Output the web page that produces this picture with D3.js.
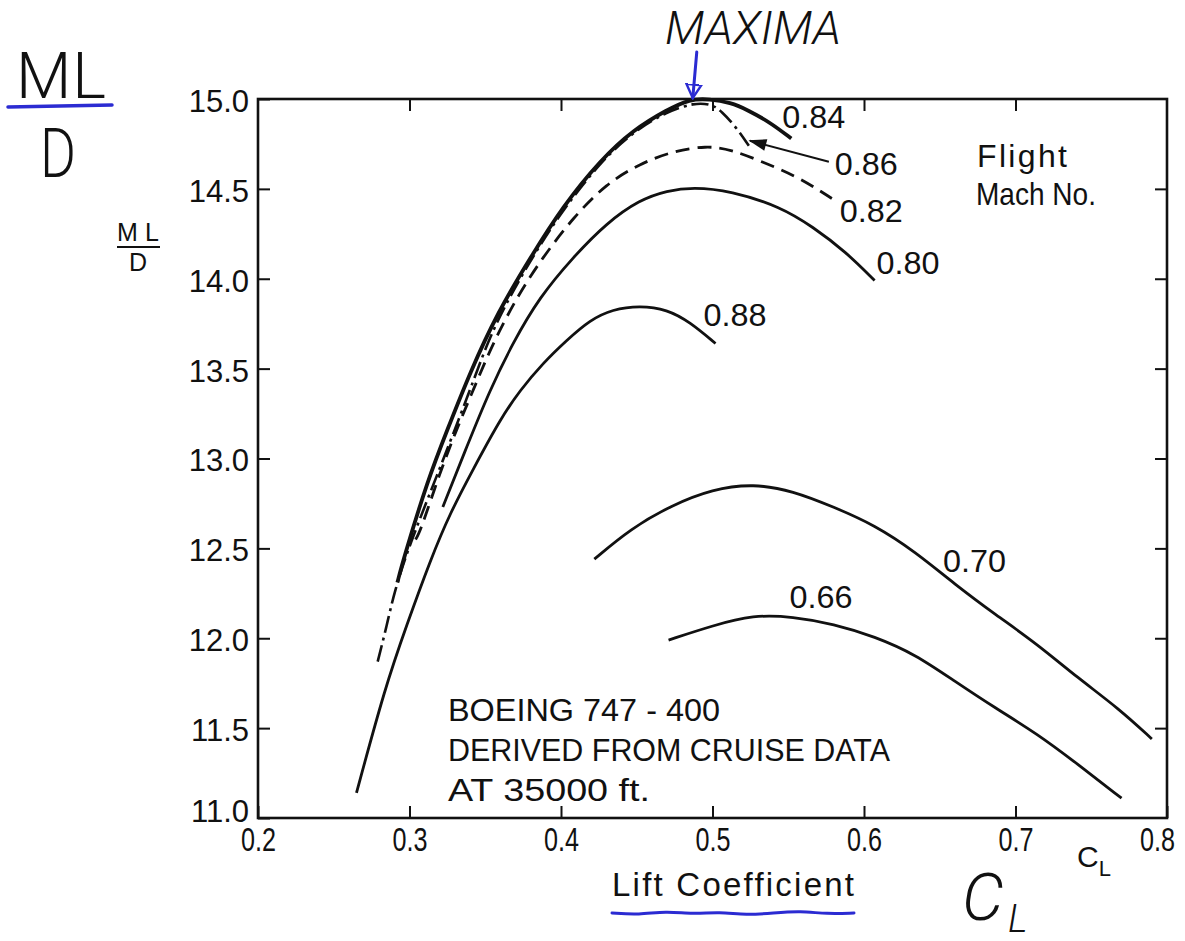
<!DOCTYPE html>
<html>
<head>
<meta charset="utf-8">
<script src="https://cdn.jsdelivr.net/npm/d3@7"></script>
<style>
  body { margin: 0; background: #fff; }
  svg { display: block; }
  text { font-family: "Liberation Sans", Arial, sans-serif; fill: #111; }
</style>
</head>
<body>
<div id="chart"></div>
<script>
// Canvas size
const width = 1185;
const height = 941;

// Flight Mach numbers (one curve each)
const machNumbers = ["0.84", "0.86", "0.82", "0.80", "0.88", "0.70", "0.66"];

// Lift coefficient (CL) and ML/D
const cl84 = [0.292, 0.296, 0.312, 0.325, 0.340, 0.358, 0.380, 0.401, 0.426, 0.448, 0.470, 0.485, 0.498, 0.512, 0.523, 0.538, 0.552];
const md84 = [12.31, 12.44, 12.88, 13.16, 13.48, 13.81, 14.12, 14.40, 14.66, 14.83, 14.94, 15.0, 15.0, 14.98, 14.94, 14.87, 14.78];

const cl86 = [0.279, 0.285, 0.290, 0.300, 0.317, 0.340, 0.352, 0.366, 0.384, 0.401, 0.426, 0.448, 0.470, 0.488, 0.500, 0.506, 0.515, 0.524];
const md86 = [11.87, 12.07, 12.26, 12.52, 12.88, 13.38, 13.66, 13.90, 14.16, 14.38, 14.65, 14.82, 14.93, 14.98, 14.97, 14.93, 14.85, 14.74];

const cl82 = [0.304, 0.307, 0.320, 0.331, 0.343, 0.355, 0.371, 0.388, 0.408, 0.430, 0.452, 0.474, 0.496, 0.512, 0.533, 0.556, 0.580];
const md82 = [12.55, 12.59, 12.92, 13.16, 13.40, 13.64, 13.90, 14.12, 14.34, 14.53, 14.64, 14.71, 14.74, 14.72, 14.65, 14.57, 14.44];

const cl80 = [0.322, 0.338, 0.353, 0.368, 0.386, 0.408, 0.430, 0.452, 0.470, 0.487, 0.512, 0.545, 0.566, 0.588, 0.607];
const md80 = [12.73, 13.07, 13.38, 13.64, 13.90, 14.12, 14.31, 14.44, 14.49, 14.51, 14.49, 14.40, 14.29, 14.15, 13.99];

const cl88 = [0.265, 0.284, 0.298, 0.314, 0.327, 0.342, 0.360, 0.373, 0.388, 0.404, 0.419, 0.434, 0.452, 0.470, 0.485, 0.502];
const md88 = [11.14, 11.73, 12.07, 12.44, 12.70, 12.94, 13.22, 13.38, 13.53, 13.66, 13.77, 13.83, 13.85, 13.83, 13.76, 13.64];

const cl70 = [0.422, 0.446, 0.473, 0.500, 0.527, 0.553, 0.580, 0.607, 0.634, 0.660, 0.687, 0.714, 0.741, 0.768, 0.790];
const md70 = [12.44, 12.61, 12.74, 12.83, 12.86, 12.82, 12.73, 12.63, 12.48, 12.30, 12.13, 11.97, 11.78, 11.61, 11.44];

const cl66 = [0.471, 0.500, 0.527, 0.553, 0.580, 0.607, 0.634, 0.660, 0.687, 0.714, 0.741, 0.770];
const md66 = [11.99, 12.07, 12.13, 12.12, 12.08, 12.01, 11.91, 11.76, 11.61, 11.47, 11.30, 11.11];

// Axis ticks
const xTicks = [0.2, 0.3, 0.4, 0.5, 0.6, 0.7, 0.8];
const yTicks = [11.0, 11.5, 12.0, 12.5, 13.0, 13.5, 14.0, 14.5, 15.0];

// Notes written in the plot
const noteLines = ["BOEING  747 - 400", "DERIVED FROM CRUISE DATA", "AT  35000  ft."];

// Scales
const x = d3.scaleLinear().domain([0.2, 0.8]).range([258, 1167]);
const y = d3.scaleLinear().domain([11, 15]).range([818, 99]);

const svg = d3
  .select("#chart")
  .append("svg")
  .attr("width", width)
  .attr("height", height);

// Arrow heads
const defs = svg.append("defs");
defs.append("marker")
  .attr("id", "head-black")
  .attr("viewBox", "0 0 12 8")
  .attr("refX", 11).attr("refY", 4)
  .attr("markerWidth", 20).attr("markerHeight", 12)
  .attr("markerUnits", "userSpaceOnUse")
  .attr("orient", "auto")
  .append("path").attr("d", "M0,0 L12,4 L0,8 Z").attr("fill", "#111");
defs.append("marker")
  .attr("id", "head-blue")
  .attr("viewBox", "0 0 10 12")
  .attr("refX", 9).attr("refY", 6)
  .attr("markerWidth", 16).attr("markerHeight", 18)
  .attr("markerUnits", "userSpaceOnUse")
  .attr("orient", "auto")
  .append("path").attr("d", "M0,1 L9,6 L0,11 Z")
  .attr("fill", "none").attr("stroke", "#2b2bd2").attr("stroke-width", 1.6);

// Build series table from the arrays
const seriesData = [
  { mach: "0.84", cl: cl84, md: md84 },
  { mach: "0.86", cl: cl86, md: md86 },
  { mach: "0.82", cl: cl82, md: md82 },
  { mach: "0.80", cl: cl80, md: md80 },
  { mach: "0.88", cl: cl88, md: md88 },
  { mach: "0.70", cl: cl70, md: md70 },
  { mach: "0.66", cl: cl66, md: md66 }
].map((s) => ({ mach: s.mach, pts: s.cl.map((c, i) => [c, s.md[i]]) }));

// Line style and label placement (offset from an anchor point on the curve)
const lineStyle = {
  "0.84": { w: 3.8, dash: null, at: -1, dx: -9, dy: -11 },
  "0.86": { w: 2.6, dash: "17,5,3,5", at: -1, dx: 86, dy: 29 },
  "0.82": { w: 2.8, dash: "14,8", at: -1, dx: 6, dy: 22 },
  "0.80": { w: 2.8, dash: null, at: -1, dx: 2, dy: -7 },
  "0.88": { w: 2.8, dash: null, at: -1, dx: -12, dy: -17 },
  "0.70": { w: 2.8, dash: null, at: 9, dx: -12, dy: -12 },
  "0.66": { w: 2.8, dash: null, at: 2, dx: 36, dy: -7 }
};

// Frame
svg.append("rect")
  .attr("x", x(0.2))
  .attr("y", y(15))
  .attr("width", x(0.8) - x(0.2))
  .attr("height", y(11) - y(15))
  .attr("fill", "none")
  .attr("stroke", "#111")
  .attr("stroke-width", 2.6);

// Bottom axis with labels, ticks pointing inward
const gx = svg.append("g")
  .attr("transform", `translate(0,${y(11)})`)
  .call(d3.axisBottom(x).tickValues(xTicks).tickSizeInner(-12).tickSizeOuter(0)
    .tickPadding(10).tickFormat(d3.format(".1f")));
gx.select(".domain").remove();
gx.selectAll("line").attr("stroke", "#111").attr("stroke-width", 2);
gx.selectAll("text")
  .attr("font-size", 33)
  .style("font-family", "'Liberation Sans', sans-serif")
  .attr("fill", "#111")
  .attr("textLength", 35)
  .attr("lengthAdjust", "spacingAndGlyphs")
  .attr("x", (d) => (d === 0.8 ? -10 : 0));

// Top axis (ticks only)
const gt = svg.append("g")
  .attr("transform", `translate(0,${y(15)})`)
  .call(d3.axisTop(x).tickValues(xTicks.slice(1, -1)).tickSizeInner(-12).tickSizeOuter(0).tickFormat(""));
gt.select(".domain").remove();
gt.selectAll("line").attr("stroke", "#111").attr("stroke-width", 2);

// Left axis with labels
const gy = svg.append("g")
  .attr("transform", `translate(${x(0.2)},0)`)
  .call(d3.axisLeft(y).tickValues(yTicks).tickSizeInner(-12).tickSizeOuter(0)
    .tickPadding(9).tickFormat(d3.format(".1f")));
gy.select(".domain").remove();
gy.selectAll("line").attr("stroke", "#111").attr("stroke-width", 2);
gy.selectAll("text")
  .attr("font-size", 31)
  .style("font-family", "'Liberation Sans', sans-serif")
  .attr("fill", "#111")
  .attr("dy", (d) => (d === 11 ? "0.1em" : "0.4em"));

// Right axis (ticks only)
const gr = svg.append("g")
  .attr("transform", `translate(${x(0.8)},0)`)
  .call(d3.axisRight(y).tickValues(yTicks.slice(1, -1)).tickSizeInner(-12).tickSizeOuter(0).tickFormat(""));
gr.select(".domain").remove();
gr.selectAll("line").attr("stroke", "#111").attr("stroke-width", 2);

// Curves
const line = d3.line()
  .x((d) => x(d[0]))
  .y((d) => y(d[1]))
  .curve(d3.curveBasis);

svg.append("g")
  .selectAll("path")
  .data(seriesData)
  .enter()
  .append("path")
  .attr("d", (d) => line(d.pts))
  .attr("fill", "none")
  .attr("stroke", "#111")
  .attr("stroke-width", (d) => lineStyle[d.mach].w)
  .attr("stroke-dasharray", (d) => lineStyle[d.mach].dash)
  .attr("stroke-linecap", "butt");

// Mach number labels
function anchorOf(d) {
  const k = lineStyle[d.mach].at;
  const p = k < 0 ? d.pts[d.pts.length + k] : d.pts[k];
  return [x(p[0]), y(p[1])];
}
svg.append("g")
  .selectAll("text")
  .data(seriesData)
  .enter()
  .append("text")
  .attr("x", (d) => anchorOf(d)[0] + lineStyle[d.mach].dx)
  .attr("y", (d) => anchorOf(d)[1] + lineStyle[d.mach].dy)
  .attr("font-size", 32)
  .attr("textLength", 63)
  .attr("lengthAdjust", "spacingAndGlyphs")
  .text((d) => d.mach);

// Arrow from the 0.86 label to its curve end
const s86 = seriesData.find((d) => d.mach === "0.86");
const end86 = anchorOf(s86);
svg.append("line")
  .attr("x1", end86[0] + 80).attr("y1", end86[1] + 16)
  .attr("x2", end86[0] + 1).attr("y2", end86[1] - 5)
  .attr("stroke", "#111").attr("stroke-width", 2)
  .attr("marker-end", "url(#head-black)");

// Legend title
svg.append("text").attr("x", 977).attr("y", 167).attr("font-size", 32)
  .attr("textLength", 90).attr("lengthAdjust", "spacing").text("Flight");
svg.append("text").attr("x", 976).attr("y", 205).attr("font-size", 32)
  .attr("textLength", 120).attr("lengthAdjust", "spacingAndGlyphs").text("Mach No.");

// Notes block
const noteWidths = [272, 442, 202];
svg.append("g")
  .selectAll("text")
  .data(noteLines)
  .enter()
  .append("text")
  .attr("x", x(0.2) + 190)
  .attr("y", (d, i) => 721 + i * 40)
  .attr("font-size", 32)
  .attr("textLength", (d, i) => noteWidths[i])
  .attr("lengthAdjust", "spacingAndGlyphs")
  .text((d) => d);

// Axis titles
svg.append("text").attr("x", 733).attr("y", 896).attr("font-size", 33)
  .attr("text-anchor", "middle")
  .attr("textLength", 242).attr("lengthAdjust", "spacing")
  .attr("id", "xtitle")
  .text("Lift  Coefficient");
const cl = svg.append("text").attr("x", 1077).attr("y", 867).attr("font-size", 30);
cl.append("tspan").text("C");
cl.append("tspan").attr("font-size", 22).attr("dy", 9).text("L");

const yl = svg.append("g").attr("transform", "translate(138,0)");
yl.append("text").attr("y", 241).attr("font-size", 25).attr("text-anchor", "middle")
  .attr("textLength", 42).attr("lengthAdjust", "spacing").text("ML");
yl.append("line").attr("x1", -21).attr("x2", 22).attr("y1", 247).attr("y2", 247)
  .attr("stroke", "#111").attr("stroke-width", 2);
yl.append("text").attr("y", 271).attr("font-size", 25).attr("text-anchor", "middle").text("D");

// Handwritten blue annotations
const ink = "#2b2bd2";
const hand = "Roboto, 'Liberation Sans', sans-serif";

svg.append("text").attr("x", 16).attr("y", 98).attr("font-size", 64)
  .style("font-family", hand).attr("font-weight", 300).attr("fill", ink)
  .attr("textLength", 90).attr("lengthAdjust", "spacing").text("ML");
svg.append("line").attr("x1", 8).attr("y1", 107).attr("x2", 112).attr("y2", 105)
  .attr("stroke", ink).attr("stroke-width", 3.5).attr("stroke-linecap", "round");
svg.append("text").attr("x", 40).attr("y", 177).attr("font-size", 68)
  .style("font-family", hand).attr("font-weight", 300).attr("fill", ink)
  .attr("textLength", 36).attr("lengthAdjust", "spacingAndGlyphs").text("D");

// MAXIMA arrow points at the peak of the 0.84 curve
const s84 = seriesData.find((d) => d.mach === "0.84");
const peak = s84.pts.reduce((a, b) => (b[1] > a[1] ? b : a));
svg.append("text").attr("x", 665).attr("y", 44).attr("font-size", 46)
  .style("font-family", hand).attr("font-weight", 300).attr("font-style", "italic")
  .attr("fill", ink)
  .attr("textLength", 176).attr("lengthAdjust", "spacingAndGlyphs").text("MAXIMA");
svg.append("line")
  .attr("x1", x(peak[0]) + 7).attr("y1", 52)
  .attr("x2", x(peak[0]) + 3).attr("y2", y(peak[1]) - 1)
  .attr("stroke", ink).attr("stroke-width", 3).attr("stroke-linecap", "round")
  .attr("marker-end", "url(#head-blue)");

// Wavy underline below the x title
const tb = document.getElementById("xtitle").getBBox();
const wave = [0, 1, -1, 0.5, -0.5, 1, 0, -1, 0.5, 0];
svg.append("path")
  .attr("d", d3.line().curve(d3.curveBasis)(
    wave.map((w, i) => [tb.x + (i * tb.width) / (wave.length - 1), tb.y + tb.height + 10 + w * 2])))
  .attr("fill", "none").attr("stroke", ink).attr("stroke-width", 3).attr("stroke-linecap", "round");

// Handwritten C with subscript L
svg.append("text").attr("x", 962).attr("y", 920).attr("font-size", 66)
  .style("font-family", hand).attr("font-weight", 300).attr("font-style", "italic")
  .attr("fill", ink).text("C");
svg.append("text").attr("x", 1008).attr("y", 932).attr("font-size", 38)
  .style("font-family", hand).attr("font-weight", 300).attr("font-style", "italic")
  .attr("fill", ink).text("L");
</script>
</body>
</html>
